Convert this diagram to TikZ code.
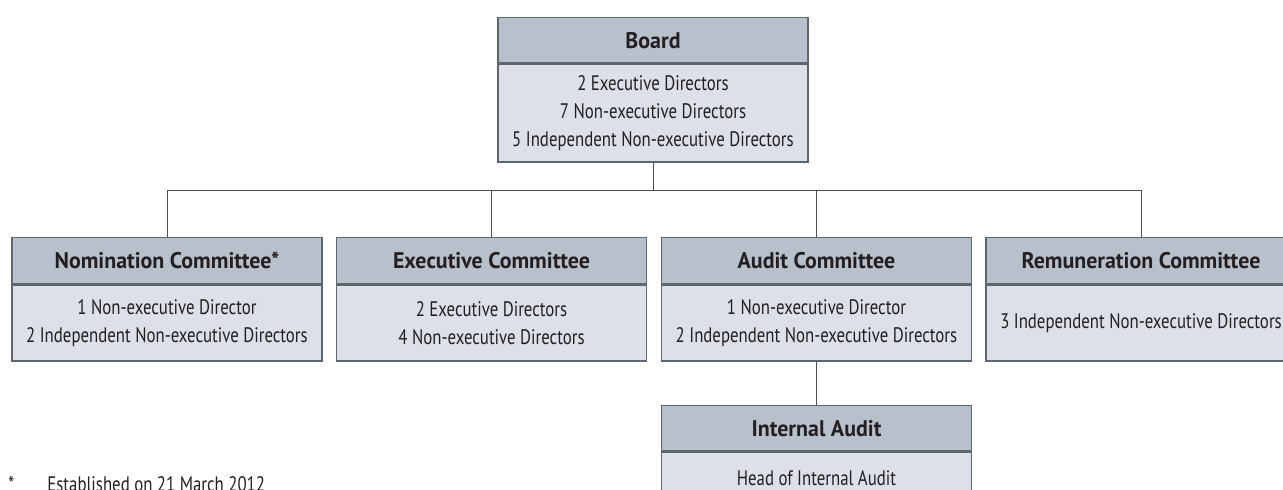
\documentclass[tikz,border=0pt]{standalone}
\usepackage{fontspec}
\setmainfont{PT Sans}
\newfontfamily\bodyfont[FakeStretch=0.80]{PT Sans}
\newfontfamily\headfont[FakeStretch=0.97]{PT Sans}
\definecolor{hdr}{HTML}{B8C0CC}
\definecolor{bdy}{HTML}{DCE0E8}
\definecolor{edgec}{HTML}{5E6670}
\definecolor{txt}{HTML}{231F20}
\definecolor{conn}{HTML}{505050}
\begin{document}
\begin{tikzpicture}[x=0.5pt,y=-0.5pt,
  hbox/.style={draw=edgec, line width=0.65pt, fill=hdr, minimum width=155pt, inner sep=0pt,
    font=\headfont\fontsize{11.3}{13}\selectfont\bfseries, text=txt, anchor=north},
  bbox/.style={draw=edgec, line width=0.65pt, fill=bdy, minimum width=155pt, inner sep=0pt,
    font=\bodyfont\fontsize{10.5}{14}\selectfont, text=txt, align=center, anchor=north},
  link/.style={draw=conn, line width=0.5pt},
  foot/.style={font=\bodyfont\fontsize{10.5}{12}\selectfont, text=txt, inner sep=0pt, anchor=base west}]
\useasboundingbox (0,0) rectangle (1283,490);
\clip (0,0) rectangle (1283,490);
% Board
\node[hbox, minimum height=22.5pt] (boardH) at (653,17) {Board};
\node[bbox, minimum height=49pt] (boardB) at (boardH.south) {2 Executive Directors\\7 Non-executive Directors\\5 Independent Non-executive Directors};
% Committees
\node[hbox, minimum height=23pt] (nomH) at (167,237) {Nomination Committee*};
\node[bbox, minimum height=38pt] (nomB) at (nomH.south) {1 Non-executive Director\\2 Independent Non-executive Directors};
\node[hbox, minimum height=23pt] (exeH) at (491.5,237) {Executive Committee};
\node[bbox, minimum height=38pt] (exeB) at (exeH.south) {2 Executive Directors\\4 Non-executive Directors};
\node[hbox, minimum height=23pt] (audH) at (816.5,237) {Audit Committee};
\node[bbox, minimum height=38pt] (audB) at (audH.south) {1 Non-executive Director\\2 Independent Non-executive Directors};
\node[hbox, minimum height=23pt] (remH) at (1141,237) {Remuneration Committee};
\node[bbox, minimum height=38pt] (remB) at (remH.south) {3 Independent Non-executive Directors};
% Internal audit
\node[hbox, minimum height=22.5pt] (intH) at (816.5,405) {Internal Audit};
\node[bbox, minimum height=38pt] (intB) at (intH.south) {Head of Internal Audit\\[-2pt]\phantom{x}};
% Connectors
\coordinate (bus) at (653,191);
\draw[link] (boardB.south) -- (boardB.south |- bus);
\draw[link] (nomH.north) -- (nomH.north |- bus) -- (remH.north |- bus) -- (remH.north);
\draw[link] (exeH.north) -- (exeH.north |- bus);
\draw[link] (audH.north) -- (audH.north |- bus);
\draw[link] (audB.south) -- (intH.north);
% Footnote
\node[foot] (fnstar) at (8,492) {*};
\node[foot] (fntext) at (47,492) {Established on 21 March 2012};
\end{tikzpicture}
\end{document}
